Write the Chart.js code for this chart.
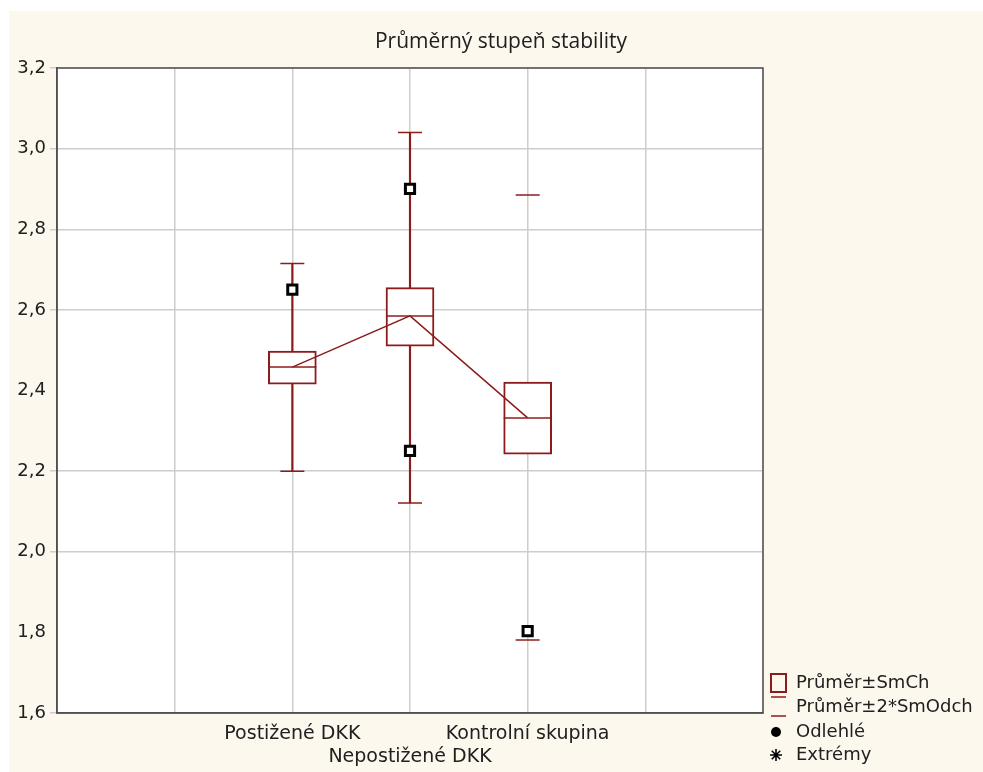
<!DOCTYPE html>
<html>
<head>
<meta charset="utf-8">
<script src="https://cdn.jsdelivr.net/npm/chart.js@4/dist/chart.umd.min.js"></script>
<style>
  html, body { margin: 0; padding: 0; background: #ffffff; }
  #panel { position: absolute; left: 9px; top: 11px; width: 974px; height: 761px; background: #fdf8ee; }
</style>
</head>
<body>
<div id="panel"><canvas id="grafico" width="974" height="761"></canvas></div>
<script>
// skupiny a hodnoty
const skupiny = ['Postižené DKK', 'Nepostižené DKK', 'Kontrolní skupina'];
const prumer = [2.458, 2.585, 2.332];
const smChDolni = [2.416, 2.51, 2.242];
const smChHorni = [2.498, 2.655, 2.421];
const sdDolni = [2.2, 2.121, 1.781];
const sdHorni = [2.715, 3.04, 2.885];
const sVousem = [true, true, false];
const odlehle = [[2.65], [2.9, 2.25], [1.803]];
const yTicks = [1.6, 1.8, 2.0, 2.2, 2.4, 2.6, 2.8, 3.0, 3.2];
const bezMrizky = [1.8, 2.4];
const nadpis = 'Průměrný stupeň stability';

const CERVENA = '#8c1c1c';
const SEDA = '#cdcdcd';

// kategorie 0..6, skupiny na pozicích 2, 3, 4
const popisky = ['', '', ...skupiny, '', ''];
const posun = 2;
const naOsu = arr => popisky.map((_, i) => {
  const k = i - posun;
  return k >= 0 && k < skupiny.length ? arr[k] : null;
});

const boxy = naOsu(skupiny.map((_, k) => [smChDolni[k], smChHorni[k]]));
const vousy = naOsu(skupiny.map((_, k) => sVousem[k] ? [sdDolni[k], sdHorni[k]] : null));

const odlehleBody = [];
odlehle.forEach((vals, k) => vals.forEach(v => odlehleBody.push({ x: popisky[k + posun], y: v })));

const ramecek = {
  id: 'ramecek',
  beforeDraw(chart) {
    const { ctx, chartArea: a } = chart;
    ctx.save();
    ctx.fillStyle = '#ffffff';
    ctx.fillRect(a.left, a.top, a.right - a.left, a.bottom - a.top);
    ctx.font = '21px "Open Sans", sans-serif';
    ctx.fillStyle = '#202020';
    ctx.textAlign = 'center';
    ctx.textBaseline = 'middle';
    ctx.fillText(nadpis, 492, 31);
    ctx.restore();
  },
  afterDraw(chart) {
    const { ctx, chartArea: a } = chart;
    ctx.save();
    ctx.strokeStyle = '#505050';
    ctx.lineWidth = 1.5;
    ctx.strokeRect(a.left, a.top, a.right - a.left, a.bottom - a.top);
    ctx.restore();
  }
};

const legenda = {
  id: 'legenda',
  afterDraw(chart) {
    const ctx = chart.ctx;
    const x0 = chart.chartArea.right + 8;
    const xt = x0 + 25;
    ctx.save();
    ctx.font = '18px "DejaVu Sans"';
    ctx.fillStyle = '#202020';
    ctx.textBaseline = 'middle';
    ctx.textAlign = 'left';

    ctx.strokeStyle = CERVENA;
    ctx.lineWidth = 2;
    ctx.strokeRect(x0, 663, 15, 18);
    ctx.lineWidth = 1.5;
    ctx.beginPath();
    ctx.moveTo(x0, 686); ctx.lineTo(x0 + 15, 686);
    ctx.moveTo(x0, 705); ctx.lineTo(x0 + 15, 705);
    ctx.stroke();
    ctx.fillText('Průměr±SmCh', xt, 672);
    ctx.fillText('Průměr±2*SmOdch', xt, 696);

    ctx.fillStyle = '#000000';
    ctx.beginPath();
    ctx.arc(x0 + 5, 721, 5, 0, Math.PI * 2);
    ctx.fill();
    ctx.fillStyle = '#202020';
    ctx.fillText('Odlehlé', xt, 721);

    ctx.strokeStyle = '#000000';
    ctx.lineWidth = 1.6;
    ctx.beginPath();
    for (let i = 0; i < 4; i++) {
      const u = i * Math.PI / 4;
      ctx.moveTo(x0 + 5 - 6 * Math.cos(u), 744 - 6 * Math.sin(u));
      ctx.lineTo(x0 + 5 + 6 * Math.cos(u), 744 + 6 * Math.sin(u));
    }
    ctx.stroke();
    ctx.fillText('Extrémy', xt, 744);
    ctx.restore();
  }
};

const ctx = document.getElementById('grafico').getContext('2d');
new Chart(ctx, {
  type: 'bar',
  data: {
    labels: popisky,
    datasets: [
      {
        type: 'line',
        label: 'odlehlé',
        data: odlehleBody,
        showLine: false,
        pointStyle: 'rect',
        pointRadius: 6.5,
        pointBackgroundColor: '#ffffff',
        pointBorderColor: '#000000',
        pointBorderWidth: 3,
        order: 0
      },
      {
        type: 'line',
        label: 'průměr spojnice',
        data: naOsu(prumer),
        borderColor: CERVENA,
        borderWidth: 1.5,
        pointRadius: 0,
        order: 1
      },
      {
        type: 'line',
        label: 'průměr',
        data: naOsu(prumer),
        showLine: false,
        pointStyle: 'line',
        pointRadius: 24,
        pointBorderColor: CERVENA,
        pointBorderWidth: 1.5,
        order: 2
      },
      {
        type: 'line',
        label: 'horní 2*SmOdch',
        data: naOsu(sdHorni),
        showLine: false,
        pointStyle: 'line',
        pointRadius: 12,
        pointBorderColor: CERVENA,
        pointBorderWidth: 1.5,
        order: 3
      },
      {
        type: 'line',
        label: 'dolní 2*SmOdch',
        data: naOsu(sdDolni),
        showLine: false,
        pointStyle: 'line',
        pointRadius: 12,
        pointBorderColor: CERVENA,
        pointBorderWidth: 1.5,
        order: 3
      },
      {
        label: 'SmCh',
        data: boxy,
        backgroundColor: '#ffffff',
        borderColor: CERVENA,
        borderWidth: 2,
        borderSkipped: false,
        barThickness: 48,
        grouped: false,
        order: 4
      },
      {
        label: 'vousy',
        data: vousy,
        backgroundColor: CERVENA,
        borderWidth: 0,
        barThickness: 1.5,
        grouped: false,
        order: 5
      }
    ]
  },
  options: {
    responsive: false,
    animation: false,
    layout: { padding: { left: 0, right: 220, top: 57, bottom: 0 } },
    plugins: {
      legend: { display: false },
      tooltip: { enabled: false },
      title: { display: false }
    },
    scales: {
      x: {
        type: 'category',
        offset: false,
        grid: { color: SEDA, lineWidth: 1.5, drawTicks: false, offset: false },
        border: { color: '#505050', width: 1.5 },
        ticks: {
          autoSkip: false,
          maxRotation: 0,
          padding: 10,
          color: '#202020',
          font: { family: '"DejaVu Sans"', size: 19 },
          callback: (v, i) => {
            const t = popisky[i];
            return i === posun + 1 ? ['', t] : t;
          }
        },
        afterFit: s => { s.height = 59; }
      },
      y: {
        min: 1.6,
        max: 3.2,
        afterBuildTicks: s => { s.ticks = yTicks.map(v => ({ value: v })); },
        grid: {
          lineWidth: 1.5,
          tickLength: 7,
          color: c => bezMrizky.some(v => Math.abs(v - c.tick.value) < 1e-6) ? 'rgba(0,0,0,0)' : SEDA
        },
        border: { color: '#505050', width: 1.5 },
        ticks: {
          padding: 4,
          color: '#202020',
          font: { family: '"DejaVu Sans"', size: 18 },
          callback: v => v.toFixed(1).replace('.', ',')
        },
        afterFit: s => { s.width = 48; }
      }
    }
  },
  plugins: [ramecek, legenda]
});
</script>
</body>
</html>
